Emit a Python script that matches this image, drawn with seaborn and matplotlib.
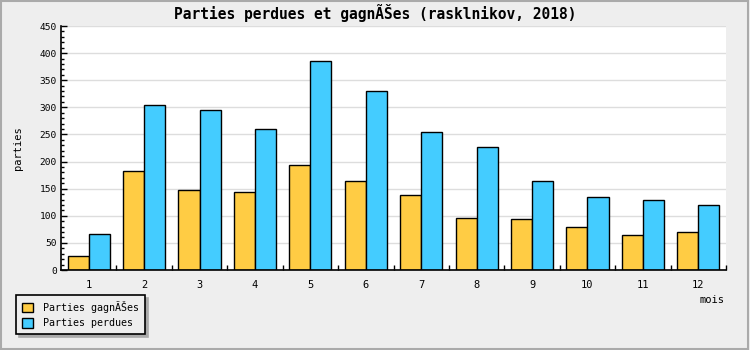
import matplotlib
matplotlib.use("Agg")
import matplotlib.pyplot as plt
import seaborn as sns
import pandas as pd
from matplotlib.patches import Rectangle
from matplotlib.ticker import MultipleLocator, FixedLocator

months = ["1", "2", "3", "4", "5", "6", "7", "8", "9", "10", "11", "12"]
gagnees = [25, 182, 147, 143, 193, 164, 138, 95, 94, 79, 64, 70]
perdues = [66, 304, 296, 260, 385, 330, 254, 226, 165, 134, 129, 119]
series_names = ["Parties gagnÃŠes", "Parties perdues"]
colors = ["#FFCC44", "#44CCFF"]

df = pd.DataFrame({
    "mois": months * 2,
    "parties": gagnees + perdues,
    "serie": [series_names[0]] * len(months) + [series_names[1]] * len(months),
})

sns.set_theme(style="white")
plt.rcParams["font.family"] = ["DejaVu Sans Mono"]
plt.rcParams["text.color"] = "black"
plt.rcParams["xtick.labelcolor"] = "black"
plt.rcParams["ytick.labelcolor"] = "black"

fig = plt.figure(figsize=(7.5, 3.5), dpi=100, facecolor="#EEEEEE")
fig.patches.append(Rectangle((0.0015, 0.003), 0.996, 0.994, transform=fig.transFigure,
                             fill=False, edgecolor="#AAAAAA", linewidth=1.5))
ax = fig.add_axes([61/750, 80/350, 665/750, 244/350])
ax.set_facecolor("white")

sns.barplot(data=df, x="mois", y="parties", hue="serie", order=months,
            hue_order=series_names, palette=colors, width=0.76,
            edgecolor="black", linewidth=1.0, saturation=1, ax=ax, legend=False)

ax.set_xlim(-0.5, len(months) - 0.5)
ax.set_ylim(0, 450)
ax.yaxis.set_major_locator(MultipleLocator(50))
ax.yaxis.set_minor_locator(MultipleLocator(10))
ax.grid(axis="y", which="major", color="#DDDDDD", linewidth=1)
ax.set_axisbelow(True)
for s in ["top", "right"]:
    ax.spines[s].set_visible(False)
for s in ["left", "bottom"]:
    ax.spines[s].set_color("black")
    ax.spines[s].set_linewidth(1.2)

ax.tick_params(axis="y", which="major", direction="in", length=4, width=1, color="black",
               labelsize=6.8, pad=3, left=True, labelcolor="black")
ax.tick_params(axis="y", which="minor", direction="in", length=2, width=1, color="black", left=True)
ax.xaxis.set_minor_locator(FixedLocator([i + 0.5 for i in range(len(months))]))
ax.tick_params(axis="x", which="major", length=0, labelsize=7.5, pad=7, labelcolor="black")
ax.tick_params(axis="x", which="minor", direction="in", length=3.5, width=1, color="black", bottom=True)

ax.set_xlabel("")
ax.set_ylabel("")
fig.text(712/750, 1 - 300/350, "mois", ha="center", va="center", fontsize=7.5, color="black")
fig.text(18/750, 1 - 148/350, "parties", ha="center", va="center", rotation=90,
         fontsize=7.5, color="black")
fig.text(0.5, 1 - 13/350, "Parties perdues et gagnÃŠes (rasklnikov, 2018)",
         ha="center", va="center", fontsize=10.5, fontweight="bold", color="black")

handles = [Rectangle((0, 0), 1, 1, facecolor=c, edgecolor="black", linewidth=1) for c in colors]
leg = fig.legend(handles, series_names, loc="upper left", bbox_to_anchor=(16/750, 1 - 295/350),
                 frameon=True, fancybox=False, shadow={"color": "#AAAAAA", "alpha": 1},
                 fontsize=7.2, handlelength=1.1, handleheight=1.1, handletextpad=1.0,
                 borderpad=0.6, labelspacing=0.5, borderaxespad=0, labelcolor="black")
leg.get_frame().set_edgecolor("black")
leg.get_frame().set_facecolor("#EEEEEE")
leg.get_frame().set_linewidth(1.2)

fig.savefig("out.png", dpi=100, facecolor=fig.get_facecolor())
